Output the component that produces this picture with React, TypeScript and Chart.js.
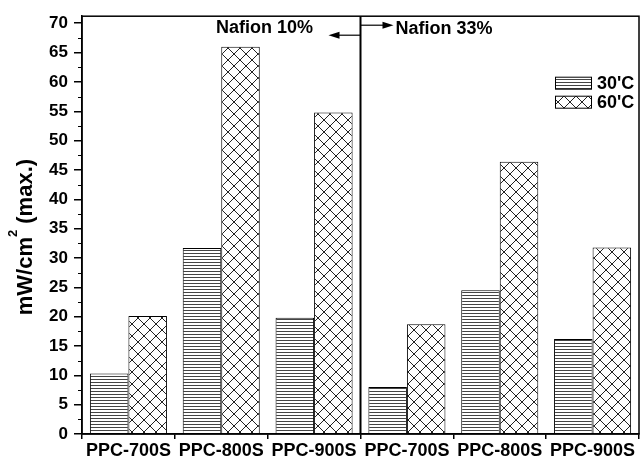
import { useEffect, useRef } from 'react';
import { Chart, registerables } from 'chart.js';

Chart.register(...registerables);

const categories = ['PPC-700S', 'PPC-800S', 'PPC-900S', 'PPC-700S', 'PPC-800S', 'PPC-900S'];
const groupLabels = ['Nafion 10%', 'Nafion 33%'];
const seriesLabels = ["30'C", "60'C"];
const values30 = [10.3, 31.7, 19.8, 8.0, 24.5, 16.2];
const values60 = [20.1, 66.0, 54.8, 18.7, 46.4, 31.8];
const yTicks = [0, 5, 10, 15, 20, 25, 30, 35, 40, 45, 50, 55, 60, 65, 70];
const yMinorTicks = [2.5, 7.5, 12.5, 17.5, 22.5, 27.5, 32.5, 37.5, 42.5, 47.5, 52.5, 57.5, 62.5, 67.5];
const yTitleParts = ['mW/cm', '2', ' (max.)'];

const FONT = '"Liberation Sans", Arial, Helvetica, sans-serif';

function makeHatch(): CanvasPattern | string {
  const c = document.createElement('canvas');
  c.width = 8;
  c.height = 3;
  const g = c.getContext('2d');
  if (!g) return '#fff';
  g.fillStyle = '#ffffff';
  g.fillRect(0, 0, 8, 3);
  g.fillStyle = '#444444';
  g.fillRect(0, 1, 8, 1);
  return g.createPattern(c, 'repeat') || '#fff';
}

function makeCross(): CanvasPattern | string {
  const s = 12;
  const c = document.createElement('canvas');
  c.width = s;
  c.height = s;
  const g = c.getContext('2d');
  if (!g) return '#fff';
  g.fillStyle = '#ffffff';
  g.fillRect(0, 0, s, s);
  g.strokeStyle = '#222222';
  g.lineWidth = 1;
  g.beginPath();
  g.moveTo(0, 0);
  g.lineTo(s, s);
  g.moveTo(s, 0);
  g.lineTo(0, s);
  g.stroke();
  return g.createPattern(c, 'repeat') || '#fff';
}

const decorPlugin = {
  id: 'decor',
  afterDatasetsDraw(chart: any) {
    const { ctx, chartArea, scales } = chart;
    const x = scales.x;
    const y = scales.y;
    ctx.save();
    // minor ticks
    ctx.strokeStyle = '#000';
    ctx.lineWidth = 1;
    ctx.beginPath();
    yMinorTicks.forEach((v) => {
      const py = Math.round(y.getPixelForValue(v)) + 0.5;
      ctx.moveTo(chartArea.left - 4, py);
      ctx.lineTo(chartArea.left, py);
    });
    ctx.stroke();
    // frame
    ctx.lineWidth = 1.5;
    ctx.strokeRect(chartArea.left, chartArea.top, chartArea.right - chartArea.left, chartArea.bottom - chartArea.top);
    // divider
    const div = (x.getPixelForValue(2) + x.getPixelForValue(3)) / 2;
    ctx.lineWidth = 2;
    ctx.beginPath();
    ctx.moveTo(div, chartArea.top);
    ctx.lineTo(div, chartArea.bottom);
    ctx.stroke();
    // arrows
    const arrow = (x0: number, x1: number, yy: number) => {
      ctx.lineWidth = 1.2;
      ctx.beginPath();
      ctx.moveTo(x0, yy);
      ctx.lineTo(x1 - Math.sign(x1 - x0) * 8, yy);
      ctx.stroke();
      ctx.beginPath();
      ctx.moveTo(x1, yy);
      ctx.lineTo(x1 - Math.sign(x1 - x0) * 11, yy - 3.5);
      ctx.lineTo(x1 - Math.sign(x1 - x0) * 11, yy + 3.5);
      ctx.closePath();
      ctx.fillStyle = '#000';
      ctx.fill();
    };
    arrow(div, div - 32, chartArea.top + 19);
    arrow(div, div + 33, chartArea.top + 9);
    // group labels
    ctx.fillStyle = '#000';
    ctx.font = `bold 18px ${FONT}`;
    ctx.textBaseline = 'middle';
    ctx.textAlign = 'center';
    ctx.fillText(groupLabels[0], div - 96, chartArea.top + 12);
    ctx.textAlign = 'left';
    ctx.fillText(groupLabels[1], div + 35, chartArea.top + 13);
    // legend
    const ds = chart.data.datasets;
    const lx = chartArea.right - 84;
    const rows = [chartArea.top + 67, chartArea.top + 86];
    ds.forEach((d: any, i: number) => {
      const ry = rows[i];
      ctx.fillStyle = d.backgroundColor;
      ctx.fillRect(lx, ry - 6, 36, 12);
      ctx.lineWidth = 1;
      ctx.strokeStyle = '#000';
      ctx.strokeRect(lx + 0.5, ry - 6, 36, 12);
      ctx.fillStyle = '#000';
      ctx.font = `bold 18px ${FONT}`;
      ctx.textAlign = 'left';
      ctx.textBaseline = 'middle';
      ctx.fillText(d.label, lx + 42, ry + 1);
    });
    // y-axis title (rotated, with superscript)
    const bigF = `bold 22px ${FONT}`;
    const smallF = `bold 13px ${FONT}`;
    ctx.font = bigF;
    const w1 = ctx.measureText(yTitleParts[0]).width;
    const w3 = ctx.measureText(yTitleParts[2]).width;
    ctx.font = smallF;
    const w2 = ctx.measureText(yTitleParts[1]).width;
    const total = w1 + w2 + w3;
    const cy = (chartArea.top + chartArea.bottom) / 2 + 12;
    ctx.translate(32, cy);
    ctx.rotate(-Math.PI / 2);
    ctx.textAlign = 'left';
    ctx.textBaseline = 'alphabetic';
    ctx.fillStyle = '#000';
    let px = -total / 2;
    ctx.font = bigF;
    ctx.fillText(yTitleParts[0], px, 0);
    px += w1;
    ctx.font = smallF;
    ctx.fillText(yTitleParts[1], px, -15);
    px += w2;
    ctx.font = bigF;
    ctx.fillText(yTitleParts[2], px, 0);
    ctx.restore();
  },
};

export default function App() {
  const ref = useRef<HTMLCanvasElement | null>(null);
  useEffect(() => {
    document.body.style.margin = '0';
    const canvas = ref.current;
    if (!canvas) return;
    const hatch = makeHatch();
    const cross = makeCross();
    const chart = new Chart(canvas, {
      type: 'bar',
      data: {
        labels: categories,
        datasets: [
          {
            label: seriesLabels[0],
            data: values30,
            backgroundColor: hatch as any,
            borderColor: '#000',
            borderWidth: 1,
            categoryPercentage: 0.83,
            barPercentage: 1.0,
          },
          {
            label: seriesLabels[1],
            data: values60,
            backgroundColor: cross as any,
            borderColor: '#000',
            borderWidth: 1,
            categoryPercentage: 0.83,
            barPercentage: 1.0,
          },
        ],
      },
      options: {
        animation: false,
        responsive: false,
        layout: { padding: { top: 14, right: 1, left: 0, bottom: 0 } },
        plugins: {
          legend: { display: false },
          tooltip: { enabled: false },
        },
        scales: {
          x: {
            type: 'category',
            offset: true,
            grid: { offset: true, drawOnChartArea: false, tickLength: 5, color: '#000', lineWidth: 1.5 },
            border: { display: true, color: '#000', width: 1.5 },
            ticks: {
              color: '#000',
              font: { family: FONT, size: 18, weight: 'bold' },
              padding: 1,
              maxRotation: 0,
              autoSkip: false,
            },
            afterFit: (s: any) => {
              s.height = 24;
            },
          },
          y: {
            min: 0,
            max: 71.2,
            afterBuildTicks: (s: any) => {
              s.ticks = yTicks.map((v) => ({ value: v }));
            },
            grid: { drawOnChartArea: false, tickLength: 8, color: '#000', lineWidth: 1.5 },
            border: { display: true, color: '#000', width: 1.5 },
            ticks: {
              color: '#000',
              font: { family: FONT, size: 17, weight: 'bold' },
              padding: 6,
            },
            title: { display: false },
            afterFit: (s: any) => {
              s.width = 82;
            },
          },
        },
      },
      plugins: [decorPlugin],
    });
    return () => chart.destroy();
  }, []);
  return (
    <div style={{ width: 640, height: 458 }}>
      <canvas ref={ref} width={640} height={458} style={{ display: 'block' }} />
    </div>
  );
}
